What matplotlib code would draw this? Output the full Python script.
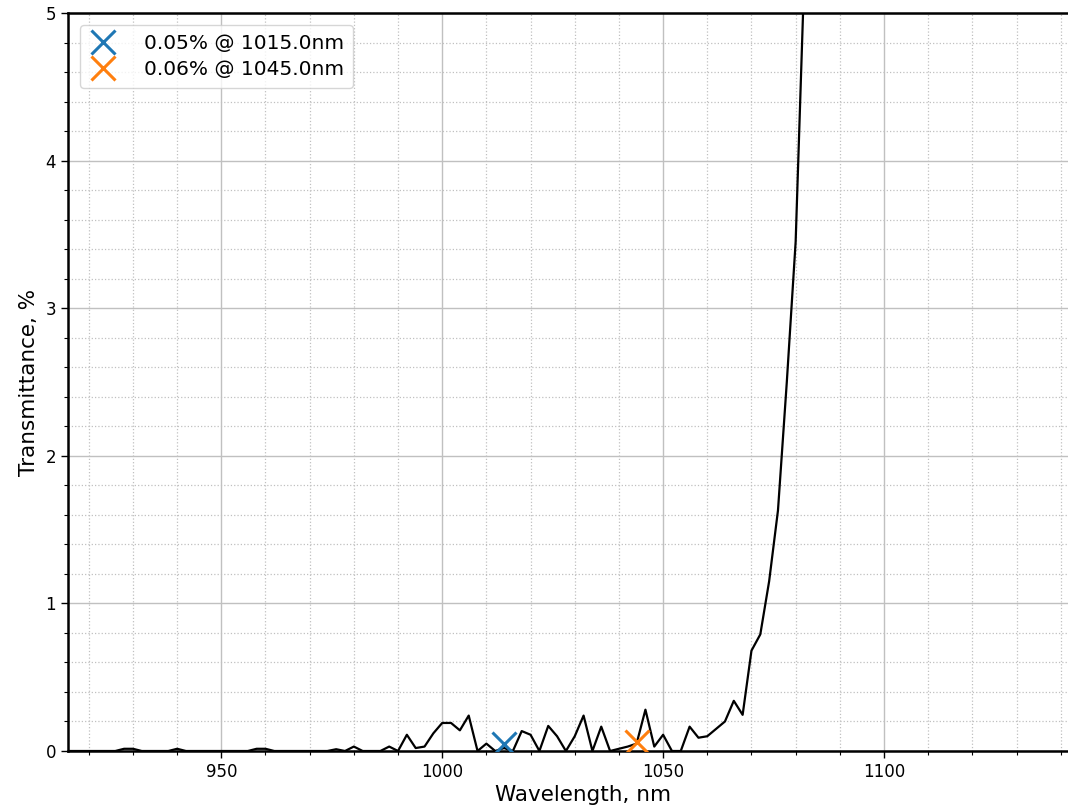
import numpy as np
import matplotlib
matplotlib.use("Agg")
import matplotlib.pyplot as plt
from matplotlib.ticker import MultipleLocator

wavelength = [900, 902, 904, 906, 908, 910, 912, 914, 916, 918, 920, 922, 924, 926, 928,
              930, 932, 934, 936, 938, 940, 942, 944, 946, 948, 950, 952, 954, 956, 958,
              960, 962, 964, 966, 968, 970, 972, 974, 976, 978, 980, 982, 984, 986, 988,
              990, 992, 994, 996, 998, 1000, 1002, 1004, 1006, 1008, 1010, 1012, 1014, 1016, 1018,
              1020, 1022, 1024, 1026, 1028, 1030, 1032, 1034, 1036, 1038, 1040, 1042, 1044, 1046, 1048,
              1050, 1052, 1054, 1056, 1058, 1060, 1062, 1064, 1066, 1068, 1070, 1072, 1074, 1076, 1078,
              1080, 1082, 1084, 1086, 1088, 1090, 1092, 1094, 1096, 1098, 1100, 1110, 1120, 1130, 1140, 1150]
transmittance = [0, 0, 0, 0, 0, 0, 0, 0, 0, 0, 0, 0, 0, 0, 0.015,
                 0.015, 0, 0, 0, 0, 0.015, 0, 0, 0, 0, 0, 0, 0, 0, 0.015,
                 0.015, 0, 0, 0, 0, 0, 0, 0, 0.012, 0, 0.03, 0, 0, 0, 0.03,
                 0, 0.11, 0.02, 0.03, 0.12, 0.19, 0.19, 0.14, 0.24, 0, 0.05, 0, 0.02, 0, 0.135,
                 0.11, 0, 0.17, 0.10, 0, 0.10, 0.24, 0, 0.165, 0, 0.015, 0.03, 0.05, 0.28, 0.03,
                 0.11, 0, 0, 0.165, 0.09, 0.10, 0.15, 0.20, 0.34, 0.245, 0.68, 0.79, 1.15, 1.63, 2.5,
                 3.45, 5.3, 7.5, 10, 13, 16, 20, 24, 28, 32, 36, 50, 60, 65, 68, 70]

marker_wl = [1014, 1044]
marker_val = [0.05, 0.06]
marker_labels = ["0.05% @ 1015.0nm", "0.06% @ 1045.0nm"]
marker_colors = ["#1f77b4", "#ff7f0e"]

fig = plt.figure(figsize=(10.68, 8.10), dpi=100)
ax = fig.add_axes([68/1068, 59/810, 1030/1068, 738/810])

ax.plot(wavelength, transmittance, color="black", lw=1.6, zorder=3)
for wl, v, lab, c in zip(marker_wl, marker_val, marker_labels, marker_colors):
    ax.plot([wl], [v], marker="x", linestyle="none", color=c, markersize=17,
            markeredgewidth=2.2, label=lab, zorder=4)

ax.set_xlim(915.3, 915.3 + 1030/4.418)
ax.set_ylim(0, 5)
ax.xaxis.set_major_locator(MultipleLocator(50))
ax.xaxis.set_minor_locator(MultipleLocator(10))
ax.yaxis.set_major_locator(MultipleLocator(1))
ax.yaxis.set_minor_locator(MultipleLocator(0.2))
ax.grid(which="major", color="#c0c0c0", lw=1.0, ls="-")
ax.grid(which="minor", color="#c0c0c0", lw=0.9, ls=":")
ax.set_axisbelow(True)
for s in ax.spines.values():
    s.set_linewidth(1.8)
ax.spines["right"].set_visible(False)
ax.tick_params(which="major", labelsize=12, length=5, width=1)
ax.tick_params(which="minor", length=3, width=0.8)
ax.set_xlabel("Wavelength, nm", fontsize=15.5, labelpad=3)
ax.set_ylabel("Transmittance, %", fontsize=15.5, labelpad=5)
ax.legend(loc="upper left", fontsize=14.5, handlelength=1.4, borderpad=0.45,
          labelspacing=0.35, handletextpad=1.3, borderaxespad=0.6)

fig.savefig("out.png", dpi=100)
